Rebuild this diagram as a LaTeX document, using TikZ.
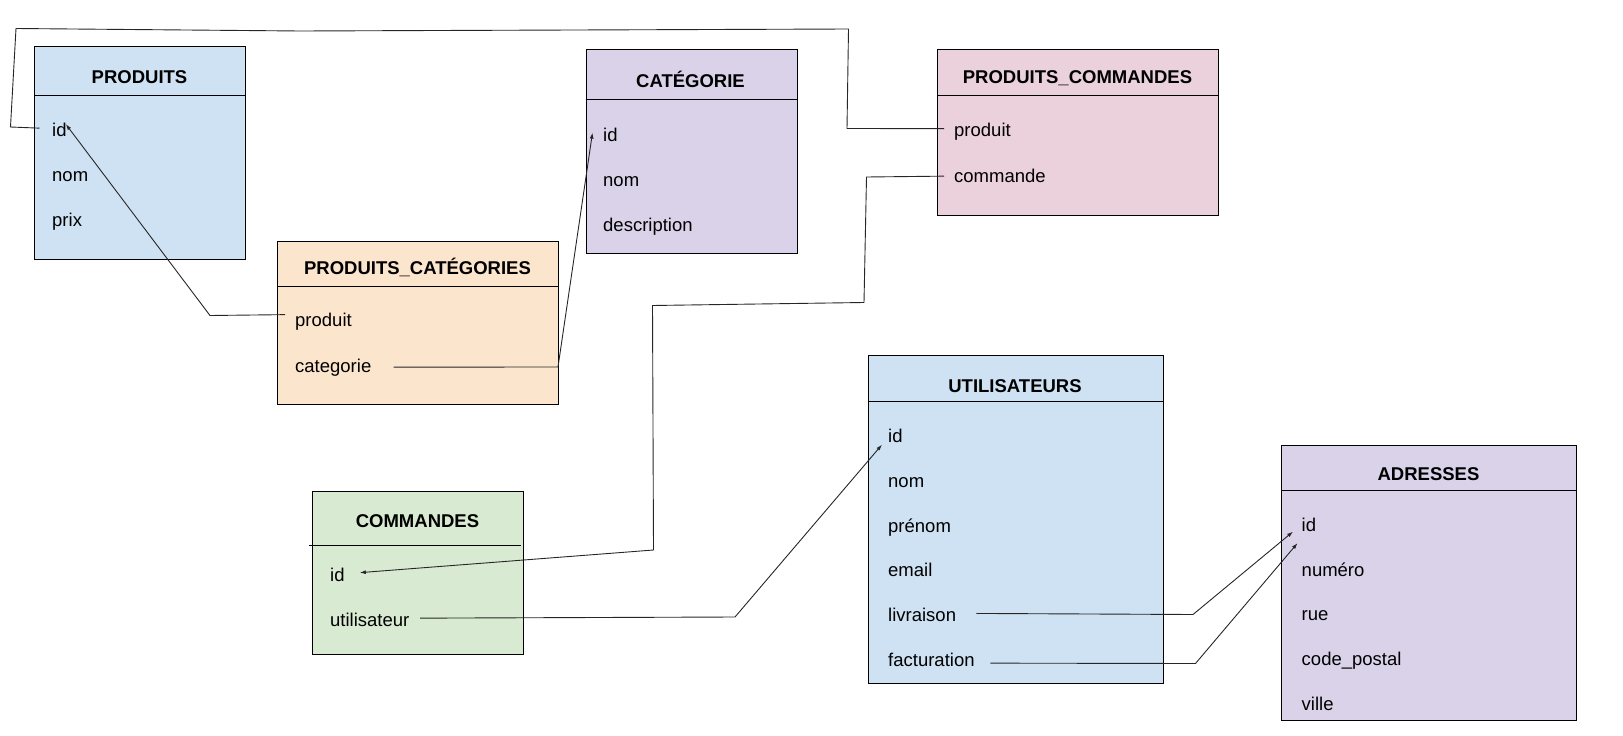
\documentclass[tikz,border=0pt]{standalone}
\usepackage{fontspec}
\setmainfont{Liberation Sans}
\usepackage{tikz}
\usetikzlibrary{
    arrows.meta, % for the Latex tips
    positioning
}
\definecolor{tblue}{HTML}{CFE2F3}
\definecolor{tlilac}{HTML}{D9D2E9}
\definecolor{tpink}{HTML}{EAD1DC}
\definecolor{torange}{HTML}{FCE5CD}
\definecolor{tgreen}{HTML}{D9EAD3}

\begin{document}
\begin{tikzpicture}[x=1pt,y=-1pt,
    table/.style={draw,line width=.9pt,anchor=north west,inner sep=0pt},
    title/.style={font=\bfseries\fontsize{18.5}{22}\selectfont,anchor=base},
    field/.style={font=\fontsize{18.5}{22}\selectfont,anchor=mid west,inner sep=0pt,
        text height=13pt,text depth=4pt},
    rule/.style={line width=.9pt},
    link/.style={line width=.9pt,draw=black!85},
    ref/.style={link,-{Latex[length=6pt,width=4pt]}}]
    \useasboundingbox (0,0) rectangle (1623,736);

    % tables
    \node[table,fill=tblue,minimum width=211pt,minimum height=213pt] (produits) at (34,45.5) {};
    \draw[rule] (34,95) -- (245,95);
    \node[title] (produits-t) at (139.5,83.6) {PRODUITS};
    \foreach \f [count=\i] in {id,nom,prix}
        \node[field] (produits-\i) at (52,{133.5+45*(\i-1)}) {\f};

    \node[table,fill=tlilac,minimum width=211pt,minimum height=204pt] (cat) at (585.5,49) {};
    \draw[rule] (585.5,99.5) -- (796.5,99.5);
    \node[title] (cat-t) at (690.5,87.6) {CATÉGORIE};
    \foreach \f [count=\i] in {id,nom,description}
        \node[field] (cat-\i) at (603,{139+44.7*(\i-1)}) {\f};

    \node[table,fill=tpink,minimum width=281pt,minimum height=166pt] (pcom) at (937,48.5) {};
    \draw[rule] (937,95.5) -- (1218,95.5);
    \node[title] (pcom-t) at (1077.5,83.6) {PRODUITS\_COMMANDES};
    \foreach \f [count=\i] in {produit,commande}
        \node[field] (pcom-\i) at (954,{134+45.5*(\i-1)}) {\f};

    \node[table,fill=torange,minimum width=281pt,minimum height=163pt] (pcat) at (277,241) {};
    \draw[rule] (277,286.5) -- (558,286.5);
    \node[title] (pcat-t) at (417.5,274.6) {PRODUITS\_CATÉGORIES};
    \foreach \f [count=\i] in {produit,categorie}
        \node[field] (pcat-\i) at (295,{324+46*(\i-1)}) {\f};

    \node[table,fill=tgreen,minimum width=211pt,minimum height=163pt] (commandes) at (312,490.5) {};
    \draw[rule] (309,545.5) -- (520.5,545.5);
    \node[title] (commandes-t) at (417.5,527.6) {COMMANDES};
    \foreach \f [count=\i] in {id,utilisateur}
        \node[field] (commandes-\i) at (330,{579+44.5*(\i-1)}) {\f};

    \node[table,fill=tblue,minimum width=295.5pt,minimum height=327.5pt] (util) at (867.5,355) {};
    \draw[rule] (867.5,401) -- (1163,401);
    \node[title] (util-t) at (1015,392) {UTILISATEURS};
    \foreach \f [count=\i] in {id,nom,prénom,email,livraison,facturation}
        \node[field] (util-\i) at (888,{440+44.7*(\i-1)}) {\f};

    \node[table,fill=tlilac,minimum width=295pt,minimum height=275.5pt] (adr) at (1281,444.5) {};
    \draw[rule] (1281,490.5) -- (1576,490.5);
    \node[title] (adr-t) at (1428.5,480.6) {ADRESSES};
    \foreach \f [count=\i] in {id,numéro,rue,code\_postal,ville}
        \node[field] (adr-\i) at (1301.5,{529+44.6*(\i-1)}) {\f};

    % bends
    \coordinate (b1) at (210,315.5);
    \coordinate (b2) at (558,367);
    \coordinate (b3a) at (847,128.5);
    \coordinate (b3b) at (848.5,29);
    \coordinate (b3c) at (300,31);
    \coordinate (b3d) at (16,28.5);
    \coordinate (b3e) at (10.5,127);
    \coordinate (b4a) at (866.5,177);
    \coordinate (b4b) at (864,302.5);
    \coordinate (b4c) at (652.5,305.5);
    \coordinate (b4d) at (653.5,550);
    \coordinate (b5) at (735,617);
    \coordinate (b6) at (1193,614.5);
    \coordinate (b7) at (1195.5,663.5);

    % links
    \draw[ref] ([xshift=-10pt,yshift=7.5pt]pcat-1.west) -- (b1)
        -- ([xshift=-1pt,yshift=7.5pt]produits-1.east);
    \draw[ref] ([xshift=22pt,yshift=1pt]pcat-2.east) -- (b2)
        -- ([xshift=-10.5pt,yshift=4.5pt]cat-1.west);
    \draw[link] ([xshift=-10pt,yshift=3.5pt]pcom-1.west) -- (b3a) -- (b3b) -- (b3c) -- (b3d)
        -- (b3e) -- ([xshift=-12.5pt,yshift=3.5pt]produits-1.west);
    \draw[ref] ([xshift=-10pt,yshift=1.5pt]pcom-2.west) -- (b4a) -- (b4b) -- (b4c)
        -- (b4d) -- ([xshift=15pt,yshift=4.5pt]commandes-1.east);
    \draw[ref] ([xshift=10.5pt,yshift=3.5pt]commandes-2.east) -- (b5)
        -- ([xshift=-6pt,yshift=-6.5pt]util-1.west);
    \draw[ref] ([xshift=20pt,yshift=3.5pt]util-5.east) -- (b6)
        -- ([xshift=-8.5pt,yshift=-4.5pt]adr-1.west);
    \draw[ref] ([xshift=15.5pt,yshift=-1.5pt]util-6.east) -- (b7)
        -- ([xshift=-4pt,yshift=-16pt]adr-1.west);
\end{tikzpicture}
\end{document}
